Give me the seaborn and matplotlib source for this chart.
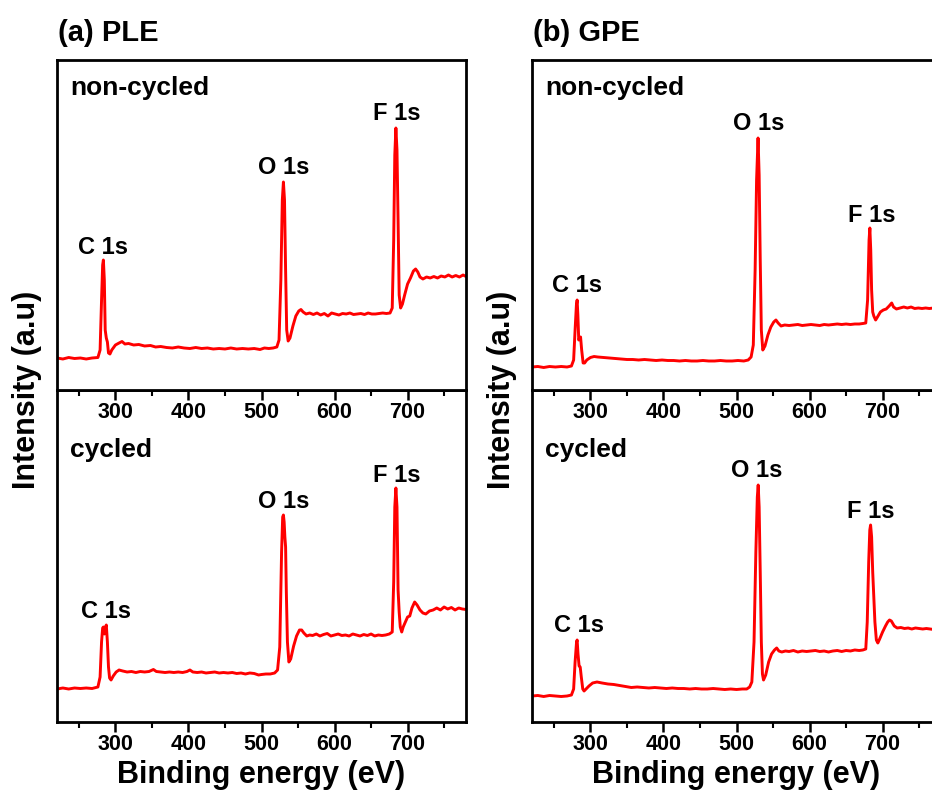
import numpy as np
import pandas as pd
import matplotlib
matplotlib.use("Agg")
import matplotlib.pyplot as plt
import seaborn as sns
from matplotlib.ticker import MultipleLocator

# ---------------- data ----------------
# (a) PLE, non-cycled
be_ple_nc = [220, 228, 236, 244, 252, 260, 268, 276, 279, 281, 282.5, 283.5, 284.8, 286, 287.5, 289, 290.5, 292.5,
             295, 300, 305, 309, 313, 318, 325, 332, 340, 348, 355, 362, 370, 378, 386, 394, 402, 410, 418, 426,
             434, 442, 450, 458, 466, 474, 482, 490, 498, 504, 510, 516, 521, 524, 526.5, 528.5, 530, 531.5, 533,
             534.5, 536.5, 539, 543, 547, 551, 554, 557, 561, 566, 571, 576, 581, 586, 591, 596, 601, 606, 611,
             616, 621, 626, 631, 636, 641, 646, 651, 656, 661, 666, 671, 676, 679, 681, 682.5, 684, 685.5, 687,
             688.5, 690.5, 693, 696, 700, 704, 708, 711, 714, 717, 721, 726, 731, 736, 741, 746, 751, 756, 761,
             766, 771, 776, 780]
int_ple_nc = [32, 31, 32.5, 31.5, 32, 31, 32, 32.5, 40, 90, 125, 130, 110, 60, 52, 48, 37, 36,
              40, 45, 47, 48.5, 46, 46.5, 45, 45.5, 44, 44.5, 43, 43.5, 42.5, 42, 43, 42, 41.5, 42.5, 41.5, 42,
              41, 41.5, 41, 42, 41, 41.5, 41, 41.5, 40.5, 42, 41.5, 42, 43, 50, 110, 190, 208, 190, 120,
              60, 49, 52, 64, 74, 79, 80.5, 78, 76, 77, 75.5, 77, 75, 76.5, 74, 77, 76, 75, 76.5,
              76, 77, 75.5, 76, 76.5, 75.5, 77, 76, 76, 76.5, 77, 76.5, 77, 82, 150, 235, 262, 240, 170,
              95, 82, 86, 95, 106, 112, 119, 121, 118, 113, 111, 113, 112, 113.5, 112, 114, 113, 115, 113,
              114.5, 113, 115, 113.5]

# (a) PLE, cycled
be_ple_c = [220, 228, 236, 244, 252, 260, 268, 276, 279, 281, 282.5, 283.5, 285, 286.5, 287.5, 289, 290.5, 292,
            294, 297, 301, 305, 310, 316, 322, 328, 334, 340, 346, 352, 356, 362, 368, 374, 380, 386, 392, 398,
            402, 406, 412, 418, 424, 430, 436, 442, 448, 454, 460, 466, 472, 478, 484, 490, 496, 500, 506, 512,
            518, 522, 525, 527.5, 529, 530, 531, 532, 533, 534, 535.5, 537.5, 540, 544, 548, 552, 555, 558, 562,
            566, 570, 575, 580, 585, 590, 595, 600, 605, 610, 615, 620, 625, 630, 635, 640, 645, 650, 655, 660,
            665, 670, 675, 679, 681, 682.5, 684, 685.5, 687, 688.5, 690, 692, 694, 697, 700, 703, 706, 709.7,
            713, 717, 721, 725, 730, 735, 740, 745, 750, 755, 760, 765, 770, 775, 780]
int_ple_c = [33, 34, 33, 34, 33.5, 34, 33.5, 35, 45, 80, 94, 95, 88, 95, 97, 80, 55, 44,
             42, 46, 50, 52, 51, 50, 50.5, 49.5, 50.5, 50, 50.5, 52.5, 50.5, 50, 49.5, 50, 49.5, 50, 49.5, 50.5,
             52, 50, 49.5, 50, 49, 49.5, 50, 49, 49.5, 49, 49.5, 48.5, 49, 48, 49, 48.5, 47, 47.5, 48, 48,
             49, 52, 75, 170, 205, 207, 200, 185, 175, 130, 80, 60, 63, 76, 86, 92, 92, 89, 86,
             87, 86.5, 88, 86, 87.5, 88.5, 86, 87, 88, 86.5, 87, 86, 88, 87, 86, 87.5, 86.5, 88, 86, 87,
             86.5, 87, 88, 90, 140, 215, 234, 215, 132, 110, 95, 90, 95, 100, 105, 106, 114, 120,
             117, 112, 109, 108, 111, 112, 114, 112, 115, 113, 114.5, 112, 114, 113, 112.5]

# (b) GPE, non-cycled
be_gpe_nc = [220, 228, 236, 244, 252, 260, 268, 274, 277, 279, 280.8, 281.8, 282.8, 284, 285.5, 286.5, 288, 290,
             292, 295, 300, 305, 310, 318, 326, 334, 342, 350, 358, 366, 374, 382, 390, 398, 406, 414, 422, 430,
             438, 446, 454, 462, 470, 478, 486, 494, 502, 510, 516, 520, 523, 525.5, 527.5, 529.5, 531, 532.5,
             534, 536, 539, 543, 547, 551, 554, 557, 561, 566, 572, 578, 584, 590, 596, 602, 608, 614, 620, 626,
             632, 638, 644, 650, 656, 662, 668, 673, 677, 679.5, 681.5, 682.6, 683.8, 685, 686.5, 688, 690.5,
             693, 697, 701, 705, 709, 712.5, 715, 719, 724, 729, 734, 739, 744, 749, 754, 759, 764, 770, 775, 780]
int_gpe_nc = [23, 23.5, 22.5, 23.5, 23, 23.5, 23, 24, 30, 60, 85, 90, 75, 50, 52, 53, 40, 27,
              27, 30, 32.5, 33.5, 33, 32.5, 32, 31.5, 31, 30.5, 30.5, 30, 30.5, 30, 29.5, 30, 29.5, 29.5, 29, 29.5,
              29, 29, 29.5, 29, 29, 29.5, 29, 29, 29.5, 29, 30, 33, 45, 120, 210, 252, 215, 130,
              60, 40, 44, 55, 63, 68, 70, 67, 64, 65, 64.5, 65, 65.5, 64.5, 65, 65.5, 65, 64.5, 65.5, 65,
              65.5, 66, 65.5, 66, 65.5, 66, 66, 66.5, 67, 90, 150, 162, 140, 100, 78, 74, 70,
              73, 78, 80, 81, 84, 87, 83, 81, 82, 83, 82, 83, 81.5, 82, 81.5, 82, 81.5, 82, 81, 81.5]

# (b) GPE, cycled
be_gpe_c = [220, 228, 236, 244, 252, 260, 268, 274, 277, 279, 281, 281.8, 283, 284.5, 286, 287.5, 289.5, 291.3,
            294, 298, 303, 309, 316, 324, 332, 340, 348, 356, 364, 372, 380, 388, 396, 404, 412, 420, 428, 436,
            444, 452, 460, 468, 476, 484, 492, 500, 508, 514, 518, 521, 524, 526.5, 528.5, 529.7, 531, 532.5,
            534, 535.5, 537, 540, 544, 548, 552, 555, 558, 562, 567, 572, 578, 584, 590, 596, 602, 608, 614,
            620, 626, 632, 638, 644, 650, 656, 662, 668, 673, 677, 679, 681, 682.5, 683.6, 685, 686.5, 688,
            689.5, 691.5, 693.5, 696, 700, 704, 707, 709.5, 712, 716, 720, 725, 730, 735, 740, 745, 750, 755,
            760, 765, 770, 775, 780]
int_gpe_c = [26, 26.5, 25.5, 26.5, 26, 25.5, 26, 27, 33, 60, 80, 82, 68, 56, 55, 45, 33, 31,
             33, 36, 39, 40, 39, 38, 37.5, 36.5, 35.5, 34.5, 35, 34.5, 34, 34.5, 34, 33.5, 34, 33.5, 33.5, 33,
             33.5, 33, 33, 33.5, 33, 32.5, 33, 32.5, 33, 33, 35, 40, 80, 170, 225, 237, 215, 150,
             80, 48, 42, 47, 60, 68, 72, 74, 71, 70, 71, 70.5, 71.5, 70, 71, 70.5, 71, 71.5, 70.5,
             71, 70, 71, 71.5, 70.5, 71.5, 71, 72, 71.5, 72, 73, 100, 160, 192, 197, 185, 150, 125,
             100, 82, 79, 83, 90, 96, 100, 102, 101, 96, 94, 94.5, 93.5, 94, 93, 94, 93.5, 93,
             93.5, 93, 92.5, 93, 92.5]

panel_titles = ["(a) PLE", "(b) GPE"]
state_labels = ["non-cycled", "cycled"]
peak_names = ["C 1s", "O 1s", "F 1s"]
# label anchor positions (eV, intensity) per panel
peak_pos_ple_nc = [(283.6, 143), (529.8, 223), (684.6, 277)]
peak_pos_ple_c = [(287.7, 110), (529.8, 221), (684.6, 247)]
peak_pos_gpe_nc = [(281.7, 105), (529.7, 266), (684.5, 175)]
peak_pos_gpe_c = [(284.0, 96), (528.3, 252), (683.6, 211)]

# ---------------- style ----------------
sns.set_style("white")
plt.rcParams['font.family'] = ['Liberation Sans', 'DejaVu Sans']
plt.rcParams['font.weight'] = 'bold'
plt.rcParams['text.color'] = 'black'
plt.rcParams['axes.labelcolor'] = 'black'
plt.rcParams['xtick.color'] = 'black'
plt.rcParams['ytick.color'] = 'black'

W, H = 932, 794
fig = plt.figure(figsize=(W / 100, H / 100), dpi=100)

def fx(px):
    return px / W

def fy(py):
    return 1 - py / H

RED = '#ff0000'

def style_axis(ax, ymax):
    ax.set_xlim(220, 780)
    ax.set_ylim(0, ymax)
    ax.xaxis.set_major_locator(MultipleLocator(100))
    ax.xaxis.set_minor_locator(MultipleLocator(50))
    ax.tick_params(axis='x', which='major', direction='out', length=7, width=1.8,
                   labelsize=15.5, pad=1.5, bottom=True, top=False, colors='black')
    ax.tick_params(axis='x', which='minor', direction='out', length=4, width=1.5,
                   bottom=True, top=False, colors='black')
    ax.set_yticks([])
    ax.set_xlabel('')
    ax.set_ylabel('')
    for s in ax.spines.values():
        s.set_visible(True)
        s.set_linewidth(2.0)
        s.set_color('black')
    for lab in ax.get_xticklabels():
        lab.set_fontweight('bold')

panels = [
    dict(left=57, width=409, title=panel_titles[0],
         up=(be_ple_nc, int_ple_nc, peak_pos_ple_nc),
         lo=(be_ple_c, int_ple_c, peak_pos_ple_c)),
    dict(left=532, width=409, title=panel_titles[1],
         up=(be_gpe_nc, int_gpe_nc, peak_pos_gpe_nc),
         lo=(be_gpe_c, int_gpe_c, peak_pos_gpe_c)),
]

top_px, mid_px, bot_px = 60, 390, 722

for p in panels:
    ax_lo = fig.add_axes([fx(p['left']), fy(bot_px), p['width'] / W, (bot_px - mid_px) / H])
    ax_up = fig.add_axes([fx(p['left']), fy(mid_px), p['width'] / W, (mid_px - top_px) / H])
    ax_up.set_zorder(3)
    ax_lo.set_zorder(1)

    for ax, (xs, ys, ppos), ymax in [(ax_up, p['up'], mid_px - top_px),
                                     (ax_lo, p['lo'], bot_px - mid_px)]:
        df = pd.DataFrame({'be': xs, 'intensity': ys})
        sns.lineplot(data=df, x='be', y='intensity', ax=ax, color=RED, linewidth=2.1,
                     sort=False, estimator=None)
        style_axis(ax, ymax)
        for name, (px, py) in zip(peak_names, ppos):
            ax.text(px, py, name, ha='center', va='center', fontsize=17, fontweight='bold', color='black')

    ax_up.text(13 / 409, (mid_px - 88) / (mid_px - top_px), state_labels[0], transform=ax_up.transAxes,
               ha='left', va='center', fontsize=19, fontweight='bold', color='black')
    ax_lo.text(13 / 409, (bot_px - 450) / (bot_px - mid_px), state_labels[1], transform=ax_lo.transAxes,
               ha='left', va='center', fontsize=19, fontweight='bold', color='black')

    fig.text(fx(p['left'] + 1), fy(33), p['title'], ha='left', va='center', fontsize=21,
             fontweight='bold', color='black')
    fig.text(fx(p['left'] + p['width'] / 2), fy(775), 'Binding energy (eV)', ha='center', va='center',
             fontsize=22, fontweight='bold', color='black')
    fig.text(fx(p['left'] - 30), fy(390), 'Intensity (a.u)', ha='center', va='center', rotation=90,
             fontsize=22, fontweight='bold', color='black')

fig.savefig('out.png', dpi=100)
